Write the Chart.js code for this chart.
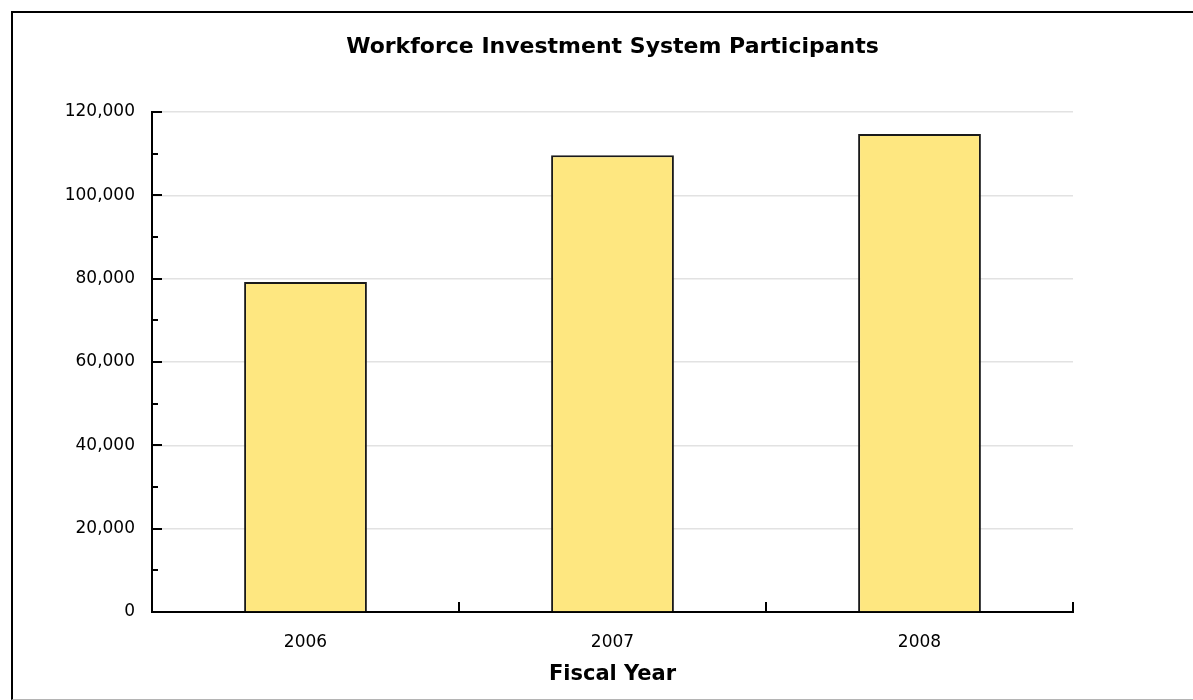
<!DOCTYPE html>
<html>
<head>
<meta charset="utf-8">
<script src="https://cdn.jsdelivr.net/npm/chart.js@4/dist/chart.umd.min.js"></script>
<style>
  html, body { margin: 0; padding: 0; background: #fff; }
  #wrap { position: relative; width: 1193px; height: 700px; overflow: hidden; }
  #chart { position: absolute; left: 0; top: 0; }
  #frame {
    position: absolute; left: 11px; top: 11px; width: 1200px; height: 686px;
    border-left: 2px solid #000; border-top: 2px solid #000; border-bottom: 1px solid #b4b4b4;
    pointer-events: none;
  }
</style>
</head>
<body>
<div id="wrap">
  <canvas id="chart" width="1193" height="700"></canvas>
  <div id="frame"></div>
</div>
<script>
const years = ["2006", "2007", "2008"];
const participants = [79200, 109600, 114700];
const yTicks = [0, 20000, 40000, 60000, 80000, 100000, 120000];
const chartTitle = "Workforce Investment System Participants";

const fontFamily = "'DejaVu Sans', Verdana, sans-serif";

// title is centred over the plot, not the canvas, and the tick marks
// point into the plot, so both are drawn here
const extras = {
  id: "extras",
  afterDraw(chart) {
    const ctx = chart.ctx;
    const y = chart.scales.y;
    const x = chart.scales.x;
    ctx.save();
    ctx.strokeStyle = "#000";
    ctx.lineWidth = 2;
    ctx.beginPath();
    for (let v = 0; v <= 120000; v += 10000) {
      const py = Math.round(y.getPixelForValue(v));
      const len = v % 20000 === 0 ? 10 : 6;
      ctx.moveTo(x.left, py);
      ctx.lineTo(x.left + len, py);
    }
    const step = (x.right - x.left) / years.length;
    for (let i = 1; i <= years.length; i++) {
      const px = Math.round(x.getPixelForValue(i - 1) + step / 2);
      ctx.moveTo(px, y.bottom);
      ctx.lineTo(px, y.bottom - 10);
    }
    ctx.stroke();

    ctx.fillStyle = "#000";
    ctx.font = "bold 22px " + fontFamily;
    ctx.textAlign = "center";
    ctx.textBaseline = "middle";
    ctx.fillText(chartTitle, (chart.chartArea.left + chart.chartArea.right) / 2, 47);
    ctx.restore();
  },
};

new Chart(document.getElementById("chart"), {
  type: "bar",
  data: {
    labels: years,
    datasets: [
      {
        label: "Participants",
        data: participants,
        backgroundColor: "#fee780",
        borderColor: "#1a1a1a",
        borderWidth: 2,
        barPercentage: 0.4,
        categoryPercentage: 1,
      },
    ],
  },
  options: {
    responsive: false,
    animation: false,
    layout: { padding: { left: 0, right: 120, top: 112, bottom: 0 } },
    plugins: {
      legend: { display: false },
      tooltip: { enabled: false },
      title: { display: false },
    },
    scales: {
      x: {
        afterFit: (scale) => { scale.height = 88; },
        border: { display: true, color: "#000", width: 2 },
        grid: { display: false },
        ticks: {
          color: "#000",
          padding: 12,
          font: { family: fontFamily, size: 17 },
        },
        title: {
          display: true,
          text: "Fiscal Year",
          color: "#000",
          font: { family: fontFamily, size: 21, weight: "bold" },
          padding: { top: 2, bottom: 13 },
        },
      },
      y: {
        min: 0,
        max: 120000,
        afterFit: (scale) => { scale.width = 152; },
        afterBuildTicks: (scale) => {
          scale.ticks = yTicks.map((v) => ({ value: v }));
        },
        border: { display: true, color: "#000", width: 2 },
        grid: { color: "#e2e2e2", lineWidth: 1.5, drawTicks: false },
        ticks: {
          color: "#000",
          padding: 17,
          font: { family: fontFamily, size: 17 },
          callback: (v) => v.toLocaleString("en-US"),
        },
      },
    },
  },
  plugins: [extras],
});
</script>
</body>
</html>
